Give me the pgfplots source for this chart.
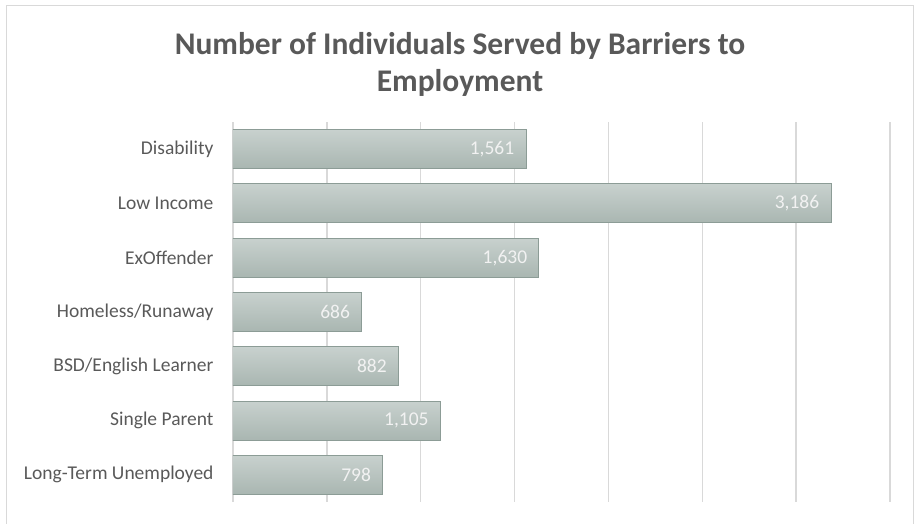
\documentclass[border=0pt]{standalone}
\usepackage{pgfplots}
\pgfplotsset{compat=1.18}
\usepackage{fontspec}
\setmainfont{Carlito}
\definecolor{txt}{HTML}{595959}
\definecolor{gridc}{HTML}{D9D9D9}
\definecolor{framec}{HTML}{D9D9D9}
\definecolor{bartop}{HTML}{C8D1CE}
\definecolor{barbot}{HTML}{A9B6B1}
\definecolor{bard}{HTML}{8C9C96}
\pgfplotsset{onebar/.style={draw=bard, line width=1pt, top color=bartop, bottom color=barbot, bar shift=0pt}}
\begin{document}
\begin{tikzpicture}[x=1pt,y=1pt]
\useasboundingbox (0,0) rectangle (916,-523);
\draw[color=framec, line width=1.5pt] (6.5,-700) -- (6.5,-5.5) -- (913.5,-5.5) -- (913.5,-700);
\node[font=\bfseries\fontsize{31.5}{37}\selectfont, text=txt, align=center] at (460,-64) {Number of Individuals Served by Barriers to\\Employment};
\begin{axis}[
  at={(233pt,-502pt)}, anchor=south west,
  scale only axis, width=657pt, height=380pt,
  xbar, bar width=0.72,
  xmin=0, xmax=3500, ymin=-0.5, ymax=6.5, y dir=reverse,
  ytick={0,...,6},
  yticklabels={Disability,Low Income,ExOffender,Homeless/Runaway,BSD/English Learner,Single Parent,Long-Term Unemployed},
  yticklabel style={font=\fontsize{19.5}{22}\selectfont, text=txt, xshift=-16pt},
  xtick={0,500,...,3500}, xticklabel=\empty,
  xmajorgrids, grid style={gridc, line width=1.3pt},
  axis line style={draw=none}, major tick length=0pt,
  point meta=x,
  nodes near coords,
  nodes near coords style={anchor=east, xshift=-8pt, font=\fontsize{19.5}{22}\selectfont, text=white!95!black,
    /pgf/number format/.cd, 1000 sep={,}, assume math mode=true},
]
\addplot[onebar] coordinates {(1561,0)};
\addplot[onebar] coordinates {(3186,1)};
\addplot[onebar] coordinates {(1630,2)};
\addplot[onebar] coordinates {(686,3)};
\addplot[onebar] coordinates {(882,4)};
\addplot[onebar] coordinates {(1105,5)};
\addplot[onebar] coordinates {(798,6)};
\end{axis}
\end{tikzpicture}
\end{document}
